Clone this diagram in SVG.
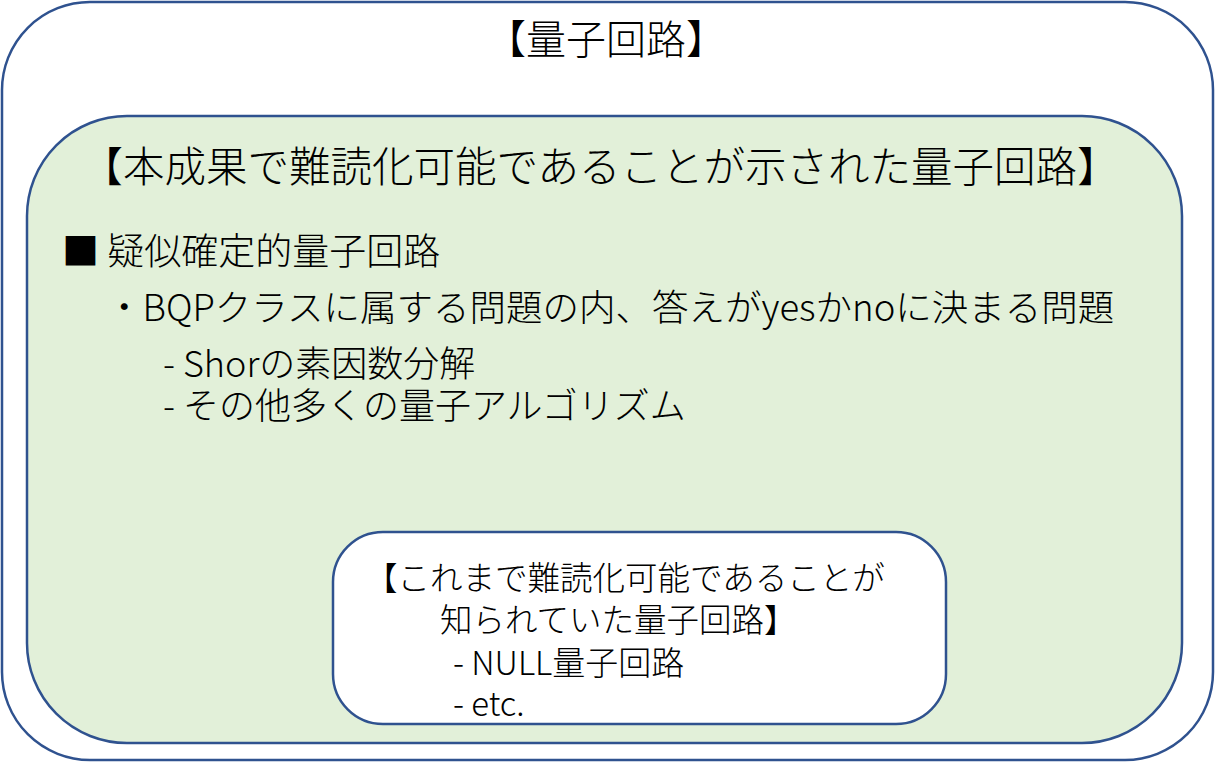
<svg xmlns="http://www.w3.org/2000/svg" width="1215" height="762" viewBox="0 0 1215 762">
<style>
.box{stroke:#2F528F;stroke-width:2.5}
text{font-family:"Noto Sans CJK JP","Liberation Sans",sans-serif;font-weight:300;fill:#000}
</style>
<rect width="1215" height="762" fill="#fff"/>
<g id="outer">
<rect class="box" x="2" y="2" width="1211" height="758" rx="88" ry="88" fill="#fff"/>
<text x="606" y="54" font-size="40" text-anchor="middle">【量子回路】</text>
</g>
<g id="green">
<rect class="box" x="27" y="116" width="1155" height="627" rx="100" ry="100" fill="#E2F0D9"/>
<text x="600" y="182" font-size="41.5" text-anchor="middle">【本成果で難読化可能であることが示された量子回路】</text>
<text x="62" y="265" font-size="37">■ 疑似確定的量子回路</text>
<text x="106" y="321" font-size="36.5">・BQPクラスに属する問題の内、答えがyesかnoに決まる問題</text>
<text x="163" y="377" font-size="36">- Shorの素因数分解</text>
<text x="163" y="419" font-size="36">- その他多くの量子アルゴリズム</text>
</g>
<g id="known">
<rect class="box" x="333" y="532" width="613" height="192" rx="50" ry="50" fill="#fff"/>
<text x="365" y="590" font-size="32.5">【これまで難読化可能であることが</text>
<text x="440" y="632" font-size="32.5">知られていた量子回路】</text>
<text x="453" y="675" font-size="33">- NULL量子回路</text>
<text x="453" y="716" font-size="33">- etc.</text>
</g>
<g id="connectors"></g>
</svg>
